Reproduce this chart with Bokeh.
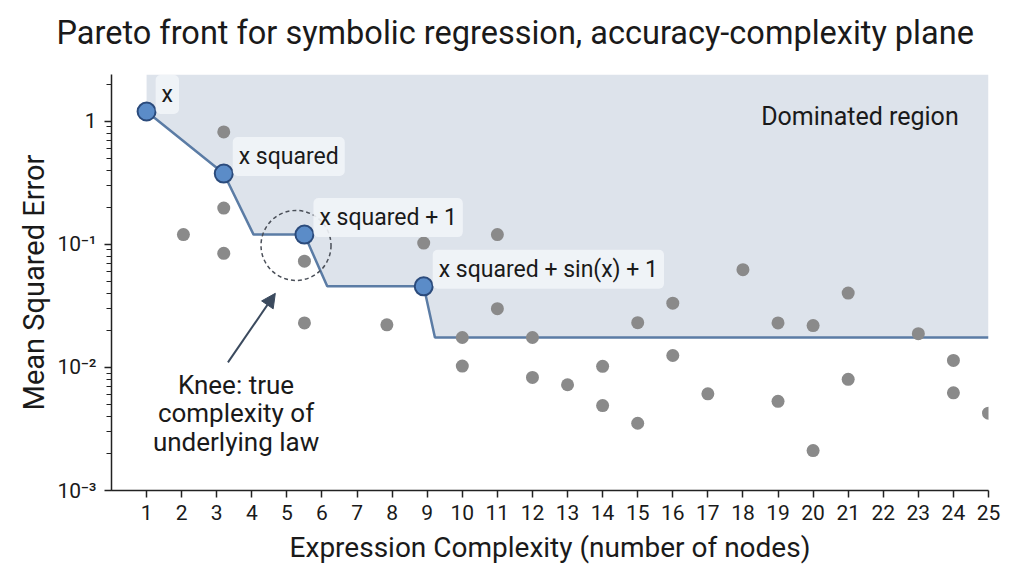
import numpy as np
from bokeh.plotting import figure
from bokeh.models import Label, FixedTicker, Range1d, Arrow, NormalHead, Title
from bokeh.core.properties import value
from bokeh.embed import file_html
from bokeh.resources import INLINE

FONT = "Roboto"
TITLE = "Pareto front for symbolic regression, accuracy-complexity plane"

# non-dominated expressions (complexity, mse)
front_x = [1, 3.2, 5.5, 8.9]
front_mse = [1.2, 0.376, 0.12, 0.0456]
front_labels = ["x", "x squared", "x squared + 1", "x squared + sin(x) + 1"]

# boundary of the dominated region
step_x = [1, 3.2, 4.05, 5.5, 6.15, 8.9, 9.22, 25]
step_mse = [1.2, 0.376, 0.12, 0.12, 0.0456, 0.0456, 0.0175, 0.0175]

# remaining candidate expressions
cand_x = [2.05, 3.2, 3.2, 3.2, 5.5, 5.5, 7.85, 8.9, 10, 10, 11, 11, 12, 12,
          13, 14, 14, 15, 15, 16, 16, 17, 18, 19, 19, 20, 20, 21, 21, 23, 24, 24, 25]
cand_mse = [0.12, 0.82, 0.197, 0.0845, 0.073, 0.023, 0.0222, 0.1025, 0.0175, 0.01025,
            0.12, 0.030, 0.0175, 0.0083, 0.00723, 0.0102, 0.0049, 0.0231, 0.00352,
            0.0333, 0.0125, 0.0061, 0.0623, 0.023, 0.0053, 0.0219, 0.00211, 0.0402,
            0.0080, 0.0188, 0.0114, 0.00622, 0.00425]

# knee marker and its note
knee_x = [5.26]
knee_mse = [0.098]
knee_text = "Knee: true\ncomplexity of\nunderlying law"

x_ticks = list(range(1, 26))
y_tick_labels = {1: "1", 0.1: "10\u207b\u00b9", 0.01: "10\u207b\u00b2", 0.001: "10\u207b\u00b3"}
x_lim = (0, 25)
y_lim = (1e-3, 2.4)

p = figure(width=1016, height=568, y_axis_type="log",
           x_range=Range1d(*x_lim), y_range=Range1d(*y_lim),
           output_backend="svg", toolbar_location=None,
           min_border_left=111, min_border_right=28, min_border_top=0, min_border_bottom=78)

# title sits a little above a thin spacer so it lines up with the canvas top
p.add_layout(Title(text=" ", text_font_size="1px", standoff=8), "above")
p.title.text = TITLE
p.title.text_font = FONT
p.title.text_font_size = "32.5px"
p.title.text_font_style = "normal"
p.title.text_color = "#1a1a1a"
p.title.align = "left"
p.title.offset = -55
p.title.standoff = 23

p.outline_line_color = None
p.grid.visible = False

# dominated region
p.patch([step_x[0]] + step_x + [step_x[-1]], [y_lim[1]] + step_mse + [y_lim[1]],
        fill_color="#dde3eb", line_color=None)
p.line(step_x, step_mse, line_color="#5b7ca5", line_width=2.5)

p.scatter(cand_x, cand_mse, size=13, fill_color="#8a8a8a", line_color=None)

p.circle(knee_x, knee_mse, radius=35, radius_units="screen", fill_color=None,
         line_color="#4a4f58", line_width=1.5, line_dash="4 3")

p.scatter(front_x, front_mse, size=18, fill_color="#5b8cc8", line_color="#2b4b7c", line_width=2)

for fx, fy, txt in zip(front_x, front_mse, front_labels):
    p.add_layout(Label(x=fx, y=fy, text=txt, x_offset=9, y_offset=17,
                       text_font=FONT, text_font_size="23px", text_color="#1a1a1a",
                       text_baseline="middle", text_align="left",
                       background_fill_color="#f1f4f8", background_fill_alpha=0.9,
                       border_radius=5, padding=6))

p.add_layout(Label(x=24.15, y=1.09, text="Dominated region", text_font=FONT,
                   text_font_size="25px", text_color="#1a1a1a",
                   text_align="right", text_baseline="middle"))

p.add_layout(Arrow(x_start=3.32, y_start=0.011, x_end=4.67, y_end=0.040,
                   line_color="#3b4a5e", line_width=2,
                   end=NormalHead(size=14, fill_color="#3b4a5e", line_color="#3b4a5e")))

p.add_layout(Label(x=3.55, y=0.00424, text=knee_text, text_font=FONT,
                   text_font_size="26px", text_color="#1a1a1a",
                   text_align="center", text_baseline="middle", text_line_height=0.95))

p.xaxis.ticker = FixedTicker(ticks=x_ticks)
p.xaxis.axis_label = "Expression Complexity (number of nodes)"
p.yaxis.axis_label = "Mean Squared Error"
p.yaxis.major_label_overrides = y_tick_labels

for ax in (p.xaxis, p.yaxis):
    ax.axis_label_text_font = FONT
    ax.axis_label_text_font_style = "normal"
    ax.axis_label_text_color = "#1a1a1a"
    ax.major_label_text_font = FONT
    ax.major_label_text_font_size = "21px"
    ax.major_label_text_color = "#1a1a1a"
    ax.axis_line_color = "#222222"
    ax.axis_line_width = 1.5
    ax.major_tick_line_color = "#222222"
    ax.major_tick_line_width = 1.5
    ax.minor_tick_line_color = "#222222"
    ax.major_tick_in = 0
    ax.minor_tick_in = 0

p.xaxis.axis_label_text_font_size = "28px"
p.yaxis.axis_label_text_font_size = "29px"
p.xaxis.major_tick_out = 7
p.yaxis.major_tick_out = 7
p.yaxis.minor_tick_out = 5
p.xaxis.major_label_standoff = 7
p.xaxis.axis_label_standoff = 8
p.yaxis.major_label_standoff = 8
p.yaxis.axis_label_standoff = 3

open("out.html", "w").write(file_html(p, INLINE))
